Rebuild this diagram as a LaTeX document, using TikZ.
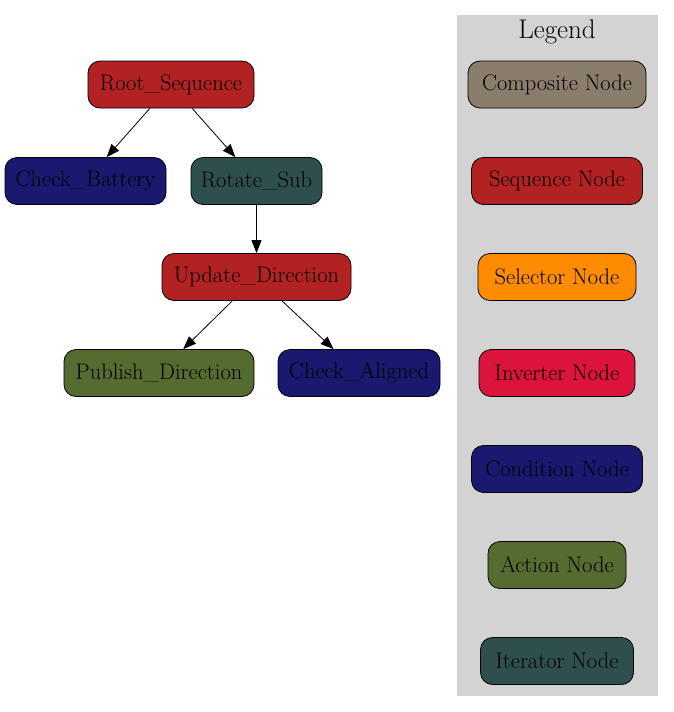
\documentclass[tikz,border=0pt]{standalone}
\usetikzlibrary{arrows.meta}
\definecolor{seqred}{HTML}{B22222}
\definecolor{condblue}{HTML}{191970}
\definecolor{itergray}{HTML}{2F4F4F}
\definecolor{actgreen}{HTML}{556B2F}
\definecolor{selorange}{HTML}{FF8C00}
\definecolor{invcrimson}{HTML}{DC143C}
\definecolor{compbrown}{HTML}{8B7D6B}
\definecolor{legendgray}{HTML}{D3D3D3}
\begin{document}
\begin{tikzpicture}[x=1pt, y=-1pt, >={Triangle[length=13pt,width=10pt]}]
\useasboundingbox (0,0) rectangle (674,712);
\tikzstyle{every node}=[shape=rectangle, rounded corners=12pt, draw, line width=0.8pt,
  inner sep=0pt, minimum height=47pt, font=\fontsize{22.5}{26}\selectfont]
% legend cluster
\node [fill=legendgray, draw=none, sharp corners, minimum width=201pt, minimum height=681pt] (LB) at (557.5, 355.5) {};
\node [draw=none, fill=none, font=\fontsize{27}{30}\selectfont] (LT) at (557, 32) {Legend};
% tree
\node [fill=seqred, minimum width=166pt] (RS) at (171, 84.5) {Root\_Sequence};
\node [fill=condblue, minimum width=161pt] (CB) at (85.5, 181) {Check\_Battery};
\node [fill=itergray, minimum width=131pt] (RT) at (256.5, 181) {Rotate\_Sub};
\node [fill=seqred, minimum width=189pt] (UD) at (256.5, 277) {Update\_Direction};
\node [fill=actgreen, minimum width=190pt] (PD) at (159, 373) {Publish\_Direction};
\node [fill=condblue, minimum width=162pt] (CA) at (359, 373) {Check\_Aligned};
% legend entries
\node [fill=compbrown, minimum width=178pt] (LC) at (557, 84.5) {Composite Node};
\node [fill=seqred, minimum width=171pt] (LS) at (557, 181) {Sequence Node};
\node [fill=selorange, minimum width=158pt] (LSel) at (557, 277) {Selector Node};
\node [fill=invcrimson, minimum width=156pt] (LI) at (557, 373) {Inverter Node};
\node [fill=condblue, minimum width=171pt] (LCo) at (557, 469) {Condition Node};
\node [fill=actgreen, minimum width=138pt] (LA) at (557, 565) {Action Node};
\node [fill=itergray, minimum width=153pt] (LIt) at (557, 661) {Iterator Node};
\draw [->, line width=0.8pt] (RS) to (CB);
\draw [->, line width=0.8pt] (RS) to (RT);
\draw [->, line width=0.8pt] (RT) to (UD);
\draw [->, line width=0.8pt] (UD) to (PD);
\draw [->, line width=0.8pt] (UD) to (CA);
\end{tikzpicture}
\end{document}
